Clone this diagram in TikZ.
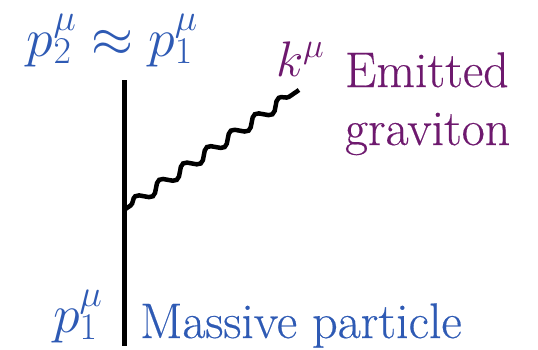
\RequirePackage{fix-cm}
\documentclass[tikz,border=0pt]{standalone}
\usepackage{fontspec}
\newfontfamily\lblfont{Latin Modern Roman}[FakeBold=0.35]
\usetikzlibrary{decorations.pathmorphing}
\definecolor{lblblue}{RGB}{46,90,180}
\definecolor{lblpurple}{RGB}{110,25,110}
\tikzset{
  bigmath/.style={font=\fontsize{54}{60}\selectfont, inner sep=0pt, outer sep=0pt},
  kmath/.style={font=\fontsize{50}{58}\selectfont, inner sep=0pt, outer sep=0pt},
  bigtext/.style={font=\lblfont\fontsize{50}{58}\selectfont, inner sep=0pt, outer sep=0pt},
  particle/.style={line width=5pt, black},
  graviton/.style={line width=4.5pt, black, decorate,
    decoration={snake, segment length=29pt, amplitude=5pt, pre length=8pt, post length=2pt}},
}
\begin{document}
\begin{tikzpicture}[x=1pt,y=-1pt]
\useasboundingbox (0,0) rectangle (538,349);
\coordinate (top) at (124,80);
\coordinate (bot) at (124,346);
\coordinate (vtx) at (124,210);
\coordinate (kend) at (299,90);
\draw[particle] (top) -- (bot);
\draw[graviton] (vtx) -- (kend);
\node[bigmath, text=lblblue, anchor=base west] (pout) at (27,56) {$p_2^\mu \approx p_1^\mu$};
\node[bigmath, text=lblblue, anchor=base west] (pin) at (53,332) {$p_1^\mu$};
\node[bigtext, text=lblblue, anchor=base west] (mass) at (140,338) {Massive particle};
\node[kmath, text=lblpurple, anchor=base west] (k) at (276,76) {$k^\mu$};
\node[bigtext, text=lblpurple, anchor=base west] (emit) at (345,87) {Emitted};
\node[bigtext, text=lblpurple, anchor=base west] (grav) at (345,145) {graviton};
\end{tikzpicture}
\end{document}
